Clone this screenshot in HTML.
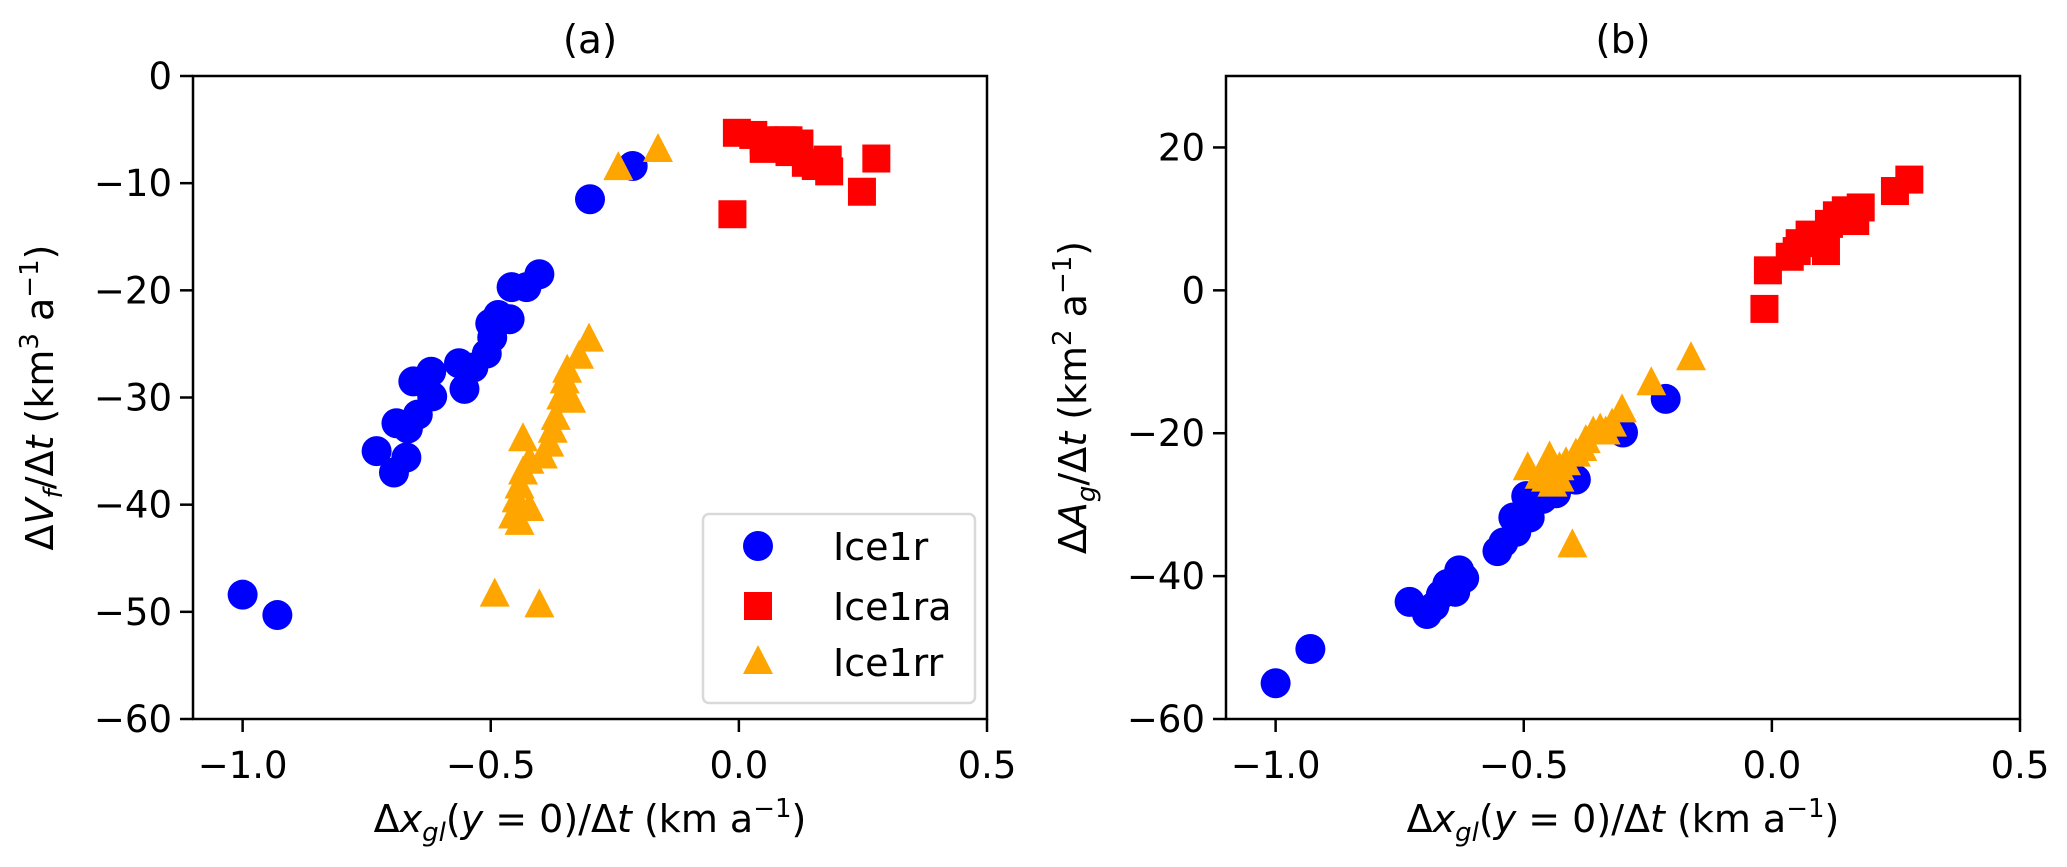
<!DOCTYPE html>
<html><head><meta charset="utf-8">
<style>
html,body{margin:0;padding:0;background:#fff;}
svg{display:block;font-family:"DejaVu Sans","Liberation Sans",sans-serif;}
</style></head>
<body>
<svg id="fig" width="2067" height="867" viewBox="0 0 2067 867" xmlns="http://www.w3.org/2000/svg"></svg>
<script>
// ---- data ----
const xTicks = [-1.0, -0.5, 0.0, 0.5];
const xTickLabels = ["\u22121.0", "\u22120.5", "0.0", "0.5"];
const yTicksA = [0, -10, -20, -30, -40, -50, -60];
const yTickLabelsA = ["0", "\u221210", "\u221220", "\u221230", "\u221240", "\u221250", "\u221260"];
const yTicksB = [20, 0, -20, -40, -60];
const yTickLabelsB = ["20", "0", "\u221220", "\u221240", "\u221260"];

const aBlueX = [-1.0,-0.93,-0.73,-0.695,-0.67,-0.69,-0.667,-0.647,-0.656,-0.62,-0.618,-0.553,-0.564,-0.535,-0.508,-0.497,-0.501,-0.485,-0.462,-0.458,-0.428,-0.402,-0.30,-0.214];
const aBlueY = [-48.4,-50.3,-35.0,-37.0,-35.6,-32.4,-32.9,-31.6,-28.5,-27.6,-29.9,-29.2,-26.8,-27.2,-25.9,-24.4,-23.1,-22.3,-22.7,-19.7,-19.7,-18.5,-11.5,-8.4];
const aRedX = [-0.013,-0.004,0.029,0.05,0.069,0.089,0.102,0.122,0.135,0.155,0.179,0.182,0.248,0.277,0.05,0.10];
const aRedY = [-12.9,-5.3,-5.5,-6.0,-6.7,-6.0,-7.1,-6.3,-8.1,-8.4,-7.8,-8.9,-10.8,-7.7,-6.8,-6.0];
const aOrX = [-0.163,-0.243,-0.302,-0.322,-0.346,-0.351,-0.358,-0.338,-0.369,-0.375,-0.382,-0.395,-0.435,-0.422,-0.435,-0.442,-0.448,-0.422,-0.455,-0.442,-0.492,-0.402];
const aOrY = [-6.9,-8.6,-24.6,-26.2,-27.5,-28.5,-30.0,-30.3,-31.9,-33.1,-34.4,-35.5,-33.9,-36.0,-37.0,-38.3,-39.6,-40.4,-41.1,-41.7,-48.4,-49.4];

const bBlueX = [-1.0,-0.93,-0.73,-0.695,-0.68,-0.667,-0.654,-0.638,-0.63,-0.62,-0.553,-0.541,-0.515,-0.521,-0.488,-0.495,-0.462,-0.435,-0.428,-0.395,-0.30,-0.214];
const bBlueY = [-55.0,-50.2,-43.6,-45.3,-44.2,-42.6,-41.1,-42.2,-39.2,-40.3,-36.5,-35.3,-33.8,-31.8,-31.8,-28.8,-29.2,-28.4,-27.2,-26.5,-19.9,-15.2];
const bRedX = [-0.015,-0.008,0.036,0.056,0.076,0.095,0.109,0.115,0.131,0.149,0.168,0.179,0.248,0.277,0.05];
const bRedY = [-2.6,2.8,4.7,6.6,7.8,7.4,5.5,9.3,10.5,11.2,9.7,11.6,13.9,15.5,5.5];
const bOrX = [-0.163,-0.243,-0.302,-0.322,-0.335,-0.346,-0.36,-0.375,-0.382,-0.395,-0.402,-0.415,-0.428,-0.442,-0.448,-0.455,-0.468,-0.492,-0.428,-0.442];
const bOrY = [-9.5,-13.0,-16.8,-18.8,-19.9,-19.5,-19.9,-21.1,-22.2,-23.0,-35.7,-24.2,-24.9,-25.7,-23.4,-26.5,-26.1,-24.9,-26.5,-27.2];

const NS = "http://www.w3.org/2000/svg";
const svg = document.getElementById("fig");
function mk(tag, attrs, parent){
  const e = document.createElementNS(NS, tag);
  for (const k in attrs) e.setAttribute(k, attrs[k]);
  (parent||svg).appendChild(e);
  return e;
}
const TOP = 76, BOT = 719;
const FS = 37;

function drawPanel(cfg){
  const g = mk("g", {});
  
  
  const L = cfg.left, R = cfg.right;
  const xs = v => L + (v - (-1.1)) / 1.6 * (R - L);
  const ys = v => TOP + (cfg.ymax - v) / (cfg.ymax - cfg.ymin) * (BOT - TOP);

  function circles(X, Y, name){
    for (let i=0;i<X.length;i++){
      const c = mk("circle", {cx:xs(X[i]), cy:ys(Y[i]), r:15, fill:"#0000ff"}, g);
      
      
    }
  }
  function squares(X, Y, name){
    for (let i=0;i<X.length;i++){
      const s = mk("rect", {x:xs(X[i])-14, y:ys(Y[i])-14, width:28, height:28, fill:"#ff0000"}, g);
      
      
    }
  }
  function tris(X, Y, name){
    for (let i=0;i<X.length;i++){
      const cx = xs(X[i]), cy = ys(Y[i]);
      const t = mk("polygon", {points:`${cx},${cy-17} ${cx+15},${cy+12} ${cx-15},${cy+12}`, fill:"#ffa500"}, g);
      
      
    }
  }
  circles(cfg.bx, cfg.by, "ice1r-point");
  squares(cfg.rx, cfg.ry, "ice1ra-point");
  tris(cfg.ox, cfg.oy, "ice1rr-point");

  const f = mk("rect", {x:L, y:TOP, width:R-L, height:BOT-TOP, fill:"none", stroke:"#000", "stroke-width":2.5}, g);
  
  

  for (let i=0;i<xTicks.length;i++){
    const x = xs(xTicks[i]);
    mk("line", {x1:x, y1:BOT, x2:x, y2:BOT+13, stroke:"#000", "stroke-width":2.5}, g);
    const t = mk("text", {x:x, y:778, "font-size":FS, "text-anchor":"middle", fill:"#000"}, g);
    t.textContent = xTickLabels[i];
    
    
  }
  for (let i=0;i<cfg.yt.length;i++){
    const y = ys(cfg.yt[i]);
    mk("line", {x1:L-13, y1:y, x2:L, y2:y, stroke:"#000", "stroke-width":2.5}, g);
    const t = mk("text", {x:L-21, y:y+13, "font-size":FS, "text-anchor":"end", fill:"#000"}, g);
    t.textContent = cfg.ytl[i];
    
    
  }
  const ti = mk("text", {x:(L+R)/2, y:53, "font-size":39, "text-anchor":"middle", fill:"#000"}, g);
  ti.textContent = cfg.title;
  
  

  const xl = mk("text", {x:(L+R)/2, y:832, "font-size":38, "text-anchor":"middle", fill:"#000"}, g);
  xl.innerHTML = 'Δ<tspan font-style="italic">x</tspan><tspan font-size="26" dy="9" font-style="italic">gl</tspan><tspan dy="-9">(</tspan><tspan font-style="italic">y</tspan> = 0)/Δ<tspan font-style="italic">t</tspan> (km a<tspan font-size="26" dy="-15">−1</tspan><tspan dy="15">)</tspan>';
  
  

  const yl = mk("text", {x:0, y:0, "font-size":38, "text-anchor":"middle", fill:"#000", transform:`translate(${L-140},${(TOP+BOT)/2}) rotate(-90)`}, g);
  yl.innerHTML = cfg.ylabel;
  
  
  return {xs, ys, g};
}

drawPanel({name:"panel-a", left:193, right:987, ymin:-60, ymax:0, yt:yTicksA, ytl:yTickLabelsA, title:"(a)",
  bx:aBlueX, by:aBlueY, rx:aRedX, ry:aRedY, ox:aOrX, oy:aOrY,
  ylabel:'Δ<tspan font-style="italic">V</tspan><tspan font-size="26" dy="9" font-style="italic">f</tspan><tspan dy="-9">/Δ</tspan><tspan font-style="italic">t</tspan> (km<tspan font-size="26" dy="-15">3</tspan><tspan dy="15"> a</tspan><tspan font-size="26" dy="-15">−1</tspan><tspan dy="15">)</tspan>'});
drawPanel({name:"panel-b", left:1226, right:2020, ymin:-60, ymax:30, yt:yTicksB, ytl:yTickLabelsB, title:"(b)",
  bx:bBlueX, by:bBlueY, rx:bRedX, ry:bRedY, ox:bOrX, oy:bOrY,
  ylabel:'Δ<tspan font-style="italic">A</tspan><tspan font-size="26" dy="9" font-style="italic">g</tspan><tspan dy="-9">/Δ</tspan><tspan font-style="italic">t</tspan> (km<tspan font-size="26" dy="-15">2</tspan><tspan dy="15"> a</tspan><tspan font-size="26" dy="-15">−1</tspan><tspan dy="15">)</tspan>'});

const lg = mk("g", {});


mk("rect", {x:703, y:514, width:272, height:189, rx:6, fill:"#fff", stroke:"#d9d9d9", "stroke-width":2.5}, lg);
const legNames = ["Ice1r", "Ice1ra", "Ice1rr"];
const legY = [546, 606, 662];
for (let i=0;i<3;i++){
  const y = legY[i];
  let m;
  if (i===0) m = mk("circle", {cx:758, cy:y, r:15, fill:"#0000ff"}, lg);
  else if (i===1) m = mk("rect", {x:744, y:y-14, width:28, height:28, fill:"#ff0000"}, lg);
  else m = mk("polygon", {points:`758,${y-17} 773,${y+12} 743,${y+12}`, fill:"#ffa500"}, lg);
  
  
  const t = mk("text", {x:833, y:y+14, "font-size":38, fill:"#000"}, lg);
  t.textContent = legNames[i];
  
  
}
</script>
</body></html>
